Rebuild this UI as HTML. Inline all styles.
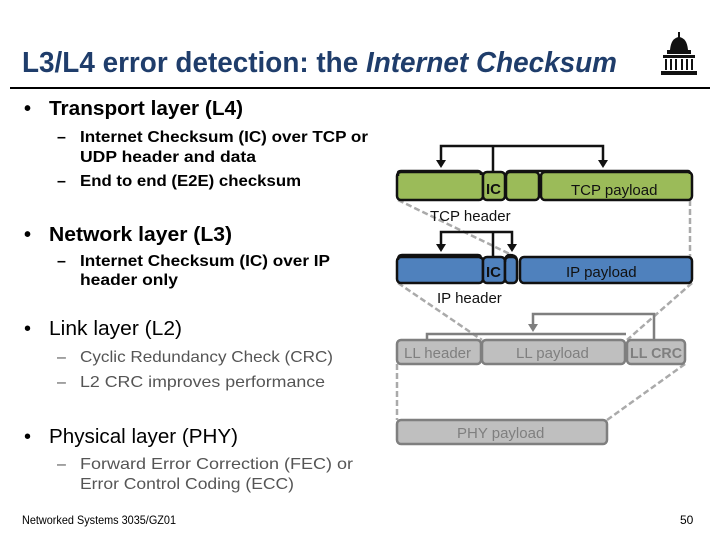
<!DOCTYPE html>
<html><head><meta charset="utf-8"><style>
html,body{margin:0;padding:0;background:#fff;}
svg{display:block;}
text{font-family:"Liberation Sans",sans-serif;}
</style></head><body>
<svg width="720" height="540" viewBox="0 0 720 540" xmlns="http://www.w3.org/2000/svg">
<!-- title -->
<text x="22" y="72" font-size="29" font-weight="bold" fill="#1f3d6b" textLength="595" lengthAdjust="spacingAndGlyphs">L3/L4 error detection: the <tspan font-style="italic">Internet Checksum</tspan></text>
<line x1="10" y1="88" x2="710" y2="88" stroke="#000" stroke-width="2"/>
<!-- logo -->
<g fill="#111">
<rect x="678" y="32" width="2" height="8"/>
<path d="M670 50 Q671 38 679 37 Q687 38 688 50 Z"/>
<rect x="667" y="50" width="24" height="4"/>
<rect x="663" y="55" width="32" height="3"/>
<rect x="665" y="59" width="2" height="11"/><rect x="670" y="59" width="2" height="11"/><rect x="675" y="59" width="2" height="11"/><rect x="681" y="59" width="2" height="11"/><rect x="686" y="59" width="2" height="11"/><rect x="691" y="59" width="2" height="11"/>
<rect x="661" y="71" width="36" height="4"/>
</g>
<!-- left text -->
<g font-weight="bold" fill="#000">
<text x="24" y="115" font-size="20">•</text>
<text x="49" y="115" font-size="20" textLength="194" lengthAdjust="spacingAndGlyphs">Transport layer (L4)</text>
<text x="57" y="142" font-size="16">–</text>
<text x="80" y="142" font-size="16" textLength="288" lengthAdjust="spacingAndGlyphs">Internet Checksum (IC) over TCP or</text>
<text x="80" y="162" font-size="16" textLength="176" lengthAdjust="spacingAndGlyphs">UDP header and data</text>
<text x="57" y="186" font-size="16">–</text>
<text x="80" y="186" font-size="16" textLength="221" lengthAdjust="spacingAndGlyphs">End to end (E2E) checksum</text>
<text x="24" y="241" font-size="20">•</text>
<text x="49" y="241" font-size="20" textLength="183" lengthAdjust="spacingAndGlyphs">Network layer (L3)</text>
<text x="57" y="266" font-size="16">–</text>
<text x="80" y="266" font-size="16" textLength="250" lengthAdjust="spacingAndGlyphs">Internet Checksum (IC) over IP</text>
<text x="80" y="285" font-size="16" textLength="98" lengthAdjust="spacingAndGlyphs">header only</text>
</g>
<g fill="#000">
<text x="24" y="335" font-size="20">•</text>
<text x="49" y="335" font-size="20" textLength="133" lengthAdjust="spacingAndGlyphs">Link layer (L2)</text>
<text x="24" y="443" font-size="20">•</text>
<text x="49" y="443" font-size="20" textLength="189" lengthAdjust="spacingAndGlyphs">Physical layer (PHY)</text>
</g>
<g fill="#555">
<text x="57" y="362" font-size="16">–</text>
<text x="80" y="362" font-size="16" textLength="253" lengthAdjust="spacingAndGlyphs">Cyclic Redundancy Check (CRC)</text>
<text x="57" y="387" font-size="16">–</text>
<text x="80" y="387" font-size="16" textLength="245" lengthAdjust="spacingAndGlyphs">L2 CRC improves performance</text>
<text x="57" y="469" font-size="16">–</text>
<text x="80" y="469" font-size="16" textLength="273" lengthAdjust="spacingAndGlyphs">Forward Error Correction (FEC) or</text>
<text x="80" y="489" font-size="16" textLength="214" lengthAdjust="spacingAndGlyphs">Error Control Coding (ECC)</text>
</g>
<text x="22" y="524" font-size="12" textLength="154" lengthAdjust="spacingAndGlyphs">Networked Systems 3035/GZ01</text>
<text x="680" y="524" font-size="12">50</text>

<!-- dashed connectors -->
<g stroke="#aaa" stroke-width="2.5" stroke-dasharray="6,3" fill="none">
<line x1="398" y1="200" x2="516" y2="257"/>
<line x1="690" y1="200" x2="690" y2="257"/>
<line x1="398" y1="283" x2="482" y2="340"/>
<line x1="692" y1="283" x2="627" y2="340"/>
<line x1="397" y1="364" x2="397" y2="420"/>
<line x1="685" y1="364" x2="607" y2="420"/>
</g>

<!-- TCP -->
<g stroke="#111" stroke-width="2.5" fill="#9bbb59">
<rect x="397" y="172" width="86" height="28" rx="4"/>
<rect x="483" y="172" width="22" height="28" rx="4"/>
<rect x="506" y="172" width="33" height="28" rx="4"/>
<rect x="541" y="172" width="151" height="28" rx="4"/>
</g>
<g stroke="#111" stroke-width="2.5" fill="none">
<path d="M398 176 V173 Q398 171 401 171 H478 Q481 171 481 175"/>
<path d="M506 176 Q506 171 510 171 H688 Q690 171 690 174"/>
<path d="M441 166 V146 H603 V166"/>
<line x1="493" y1="146" x2="493" y2="172"/>
</g>
<path d="M436 160 L446 160 L441 168 Z M598 160 L608 160 L603 168 Z" fill="#111"/>
<text x="486" y="194" font-size="15" font-weight="bold" fill="#111">IC</text>
<text x="571" y="195" font-size="15" fill="#111">TCP payload</text>
<text x="430" y="221" font-size="15" fill="#111">TCP header</text>

<!-- IP -->
<g stroke="#111" stroke-width="2.5" fill="#4f81bd">
<rect x="397" y="257" width="86" height="26" rx="4"/>
<rect x="483" y="257" width="22" height="26" rx="4"/>
<rect x="505" y="257" width="12" height="26" rx="4"/>
<rect x="520" y="257" width="172" height="26" rx="4"/>
</g>
<g stroke="#111" stroke-width="2.5" fill="none">
<path d="M398 260 Q398 255 402 255 H478 Q481 255 481 259"/>
<path d="M505 262 Q505 255 510 255 Q516 255 517 260"/>
<path d="M441 250 V232 H512 V250"/>
<line x1="493" y1="232" x2="493" y2="257"/>
</g>
<path d="M436 244 L446 244 L441 252 Z M507 244 L517 244 L512 252 Z" fill="#111"/>
<text x="486" y="277" font-size="15" font-weight="bold" fill="#111">IC</text>
<text x="566" y="277" font-size="15" fill="#111">IP payload</text>
<text x="437" y="303" font-size="15" fill="#111">IP header</text>

<!-- LL -->
<g stroke="#7f7f7f" stroke-width="2.5" fill="#bfbfbf">
<rect x="397" y="340" width="84" height="24" rx="4"/>
<rect x="482" y="340" width="143" height="24" rx="4"/>
<rect x="627" y="340" width="58" height="24" rx="4"/>
<rect x="397" y="420" width="210" height="24" rx="4"/>
</g>
<g stroke="#7f7f7f" stroke-width="2.5" fill="none">
<path d="M427 340 V334 H626"/>
<path d="M533 329 V314 H654 V340"/>
</g>
<path d="M528 324 L538 324 L533 332 Z" fill="#7f7f7f"/>
<g fill="#7f7f7f" font-size="15">
<text x="404" y="358">LL header</text>
<text x="516" y="358">LL payload</text>
<text x="630" y="358" font-weight="bold" textLength="52" lengthAdjust="spacingAndGlyphs">LL CRC</text>
<text x="457" y="438">PHY payload</text>
</g>
</svg>
</body></html>
